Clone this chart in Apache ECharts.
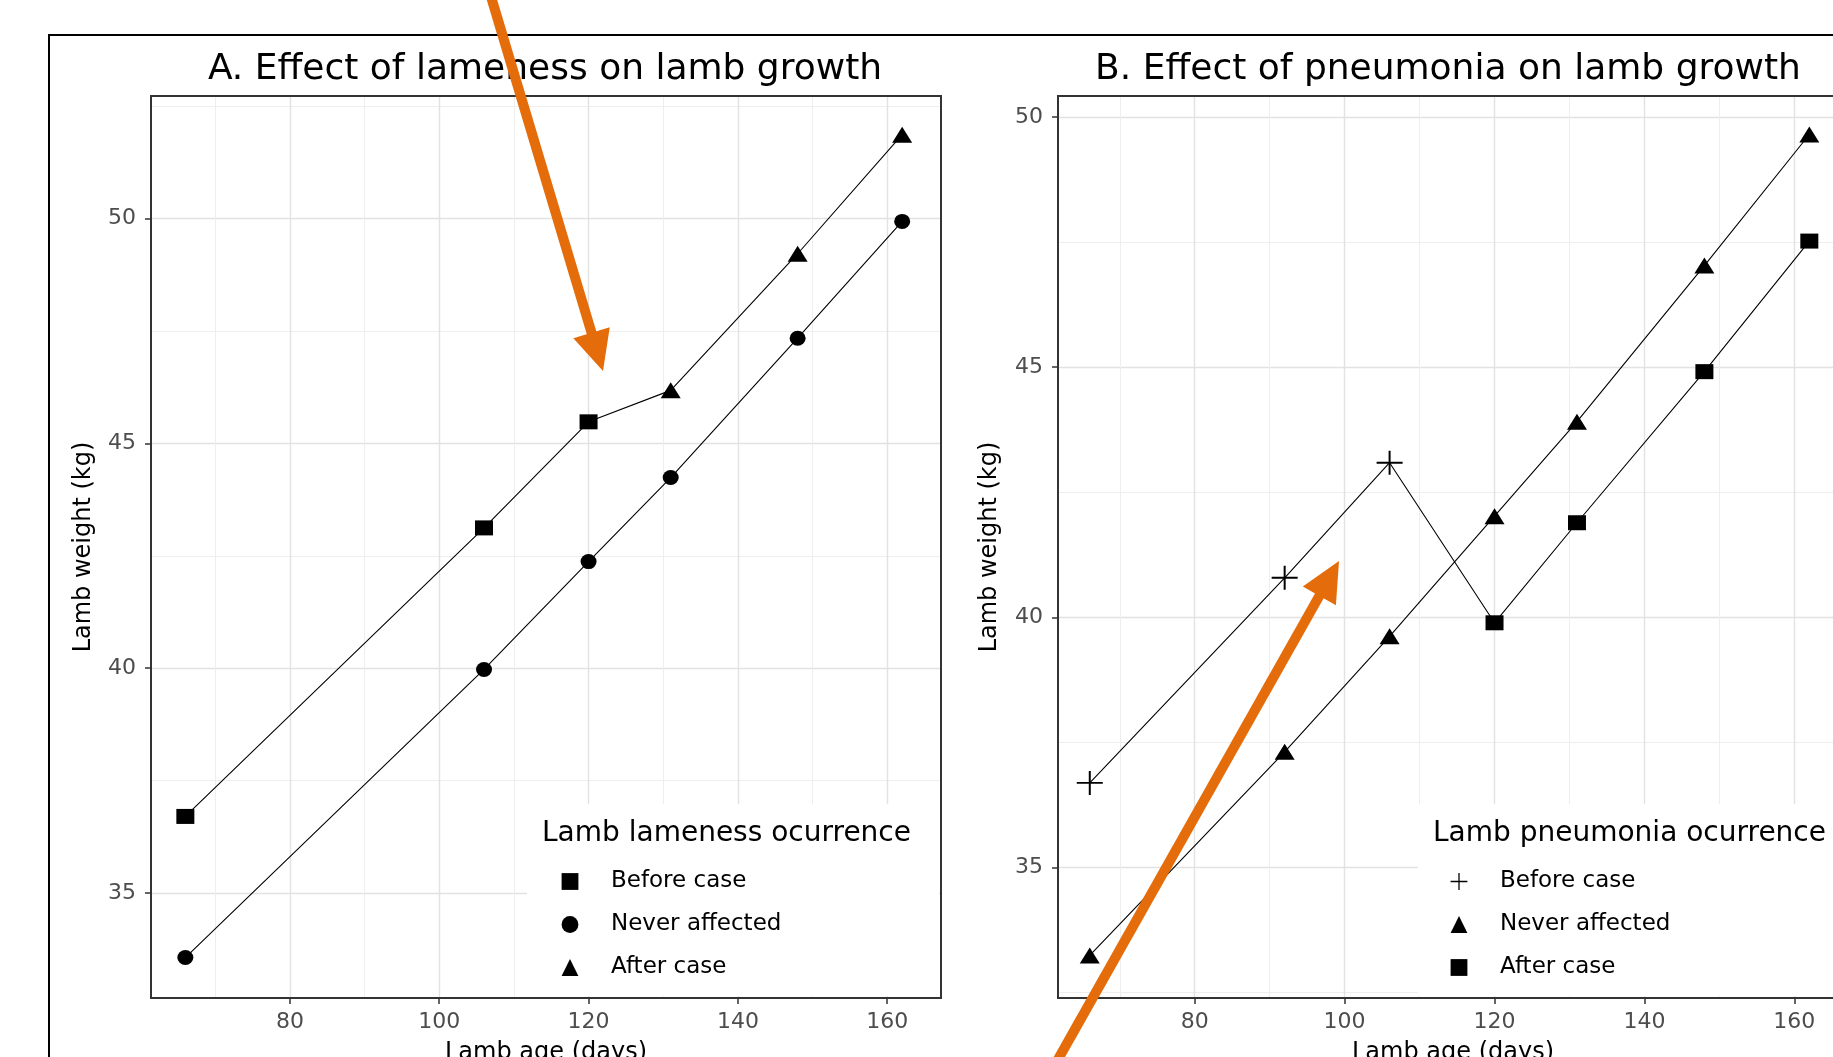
<!DOCTYPE html>
<html>
<head>
<meta charset="utf-8">
<script src="https://cdn.jsdelivr.net/npm/echarts@6/dist/echarts.min.js"></script>
<style>
  html, body { margin: 0; padding: 0; background: #fff; }
  #growth_chart { width: 1833px; height: 1057px; }
</style>
</head>
<body>
<div id="growth_chart"></div>
<script>
// A. lameness
var ageBeforeA = [66, 106, 120];
var wtBeforeA = [36.7, 43.12, 45.48];
var ageNeverA = [66, 106, 120, 131, 148, 162];
var wtNeverA = [33.56, 39.97, 42.37, 44.24, 47.34, 49.94];
var ageAfterA = [131, 148, 162];
var wtAfterA = [46.18, 49.22, 51.87];

// B. pneumonia
var ageBeforeB = [66, 92, 106];
var wtBeforeB = [36.69, 40.79, 43.09];
var ageNeverB = [66, 92, 106, 120, 131, 148, 162];
var wtNeverB = [33.24, 37.31, 39.62, 42.02, 43.91, 47.03, 49.65];
var ageAfterB = [120, 131, 148, 162];
var wtAfterB = [39.89, 41.89, 44.91, 47.52];

var xTicks = [80, 100, 120, 140, 160];
var xMinor = [70, 90, 110, 130, 150];
var yTicks = [35, 40, 45, 50];
var yMinor = [32.5, 37.5, 42.5, 47.5, 52.5];
var legendNames = ['Before case', 'Never affected', 'After case'];

var xRangeA = [61.4, 167.2], yRangeA = [32.66, 52.73];
var xRangeB = [61.76, 167.16], yRangeB = [32.39, 50.42];

var FONT = 'DejaVu Sans';
var orange = '#E46C0A';
var plusPath = 'path://M12,0h2v12h12v2h-12v12h-2v-12h-12v-2h12z';

function pts(ages, wts) {
    return ages.map(function (a, i) { return [a, wts[i]]; });
}

function inside(vals, range) {
    return vals.filter(function (v) { return v > range[0] && v < range[1]; });
}

function gridSeries(idx, xr, yr) {
    var major = {color: '#e2e2e2', width: 1.4, type: 'solid'};
    var minor = {color: '#eeeeee', width: 1, type: 'solid'};
    var lines = [];
    inside(yTicks, yr).forEach(function (v) { lines.push({yAxis: v, lineStyle: major}); });
    inside(yMinor, yr).forEach(function (v) { lines.push({yAxis: v, lineStyle: minor}); });
    inside(xTicks, xr).forEach(function (v) { lines.push({xAxis: v, lineStyle: major}); });
    inside(xMinor, xr).forEach(function (v) { lines.push({xAxis: v, lineStyle: minor}); });
    return {
        type: 'line', xAxisIndex: idx, yAxisIndex: idx, data: [], silent: true,
        markLine: {z: -1, silent: true, symbol: ['none', 'none'], label: {show: false},
            animation: false, data: lines}
    };
}

function pathLine(idx, data) {
    return {
        type: 'line', xAxisIndex: idx, yAxisIndex: idx, data: data, symbol: 'none',
        lineStyle: {color: '#000', width: 1.1}, z: 3, silent: true
    };
}

function markers(idx, name, data, symbol, size) {
    return {
        type: 'line', name: name, xAxisIndex: idx, yAxisIndex: idx, data: data,
        symbol: symbol, symbolSize: size, showAllSymbol: true,
        itemStyle: {color: '#000'}, lineStyle: {opacity: 0, color: '#000'},
        z: 4, silent: true
    };
}

function xAxisOf(idx, r) {
    return {
        type: 'value', gridIndex: idx, min: r[0], max: r[1],
        axisLine: {show: false}, splitLine: {show: false},
        axisTick: {show: true, customValues: xTicks, length: 6, lineStyle: {color: '#333', width: 1.5}},
        axisLabel: {customValues: xTicks, color: '#4d4d4d', fontSize: 22, fontFamily: FONT, margin: 13},
        name: 'Lamb age (days)', nameLocation: 'middle', nameGap: 43,
        nameTextStyle: {color: '#000', fontSize: 24, fontFamily: FONT}
    };
}

function yAxisOf(idx, r, gap) {
    return {
        type: 'value', gridIndex: idx, min: r[0], max: r[1],
        axisLine: {show: false}, splitLine: {show: false},
        axisTick: {show: true, customValues: yTicks, length: 6, lineStyle: {color: '#333', width: 1.5}},
        axisLabel: {customValues: yTicks, color: '#4d4d4d', fontSize: 22, fontFamily: FONT, margin: 15},
        name: 'Lamb weight (kg)', nameLocation: 'middle', nameRotate: 90, nameGap: gap,
        nameTextStyle: {color: '#000', fontSize: 24, fontFamily: FONT}
    };
}

function legendOf(left, prefix) {
    return {
        orient: 'vertical', left: left, top: 870, padding: 0,
        itemWidth: 72, itemHeight: 21, itemGap: 20, selectedMode: false,
        lineStyle: {color: 'rgba(0,0,0,0)'},
        data: legendNames.map(function (n) { return prefix + n; }),
        formatter: function (name) { return name.slice(prefix.length); },
        textStyle: {color: '#000', fontSize: 23, fontFamily: FONT}
    };
}

function titleOf(text, x, y, size, align) {
    return {
        text: text, left: x, top: y, padding: 0, textAlign: align, textVerticalAlign: 'middle',
        textStyle: {color: '#000', fontSize: size, fontWeight: 'normal', fontFamily: FONT}
    };
}

function arrow(x1, y1, x2, y2) {
    var dx = x2 - x1, dy = y2 - y1, len = Math.sqrt(dx * dx + dy * dy);
    var ux = dx / len, uy = dy / len, hl = 40, hw = 19;
    var bx = x2 - ux * hl, by = y2 - uy * hl;
    return [
        {type: 'line', z: 100, shape: {x1: x1, y1: y1, x2: bx + ux * 2, y2: by + uy * 2},
            style: {stroke: orange, lineWidth: 10}},
        {type: 'polygon', z: 100, shape: {points: [[x2, y2], [bx - uy * hw, by + ux * hw], [bx + uy * hw, by - ux * hw]]},
            style: {fill: orange}}
    ];
}

var chart = echarts.init(document.getElementById('growth_chart'));
var option = {
    backgroundColor: '#fff',
    animation: false,
    textStyle: {fontFamily: FONT},
    title: [
        titleOf('A. Effect of lameness on lamb growth', 545, 70, 36, 'center'),
        titleOf('B. Effect of pneumonia on lamb growth', 1448, 70, 36, 'center'),
        titleOf('Lamb lameness ocurrence', 542, 834, 28, 'left'),
        titleOf('Lamb pneumonia ocurrence', 1433, 834, 28, 'left')
    ],
    legend: [legendOf(533, 'A|'), legendOf(1422, 'B|')],
    grid: [
        {left: 151, top: 96, width: 790, height: 902, outerBoundsMode: 'none',
            show: true, borderColor: '#333', borderWidth: 2},
        {left: 1058, top: 96, width: 790, height: 902, outerBoundsMode: 'none',
            show: true, borderColor: '#333', borderWidth: 2}
    ],
    xAxis: [xAxisOf(0, xRangeA), xAxisOf(1, xRangeB)],
    yAxis: [yAxisOf(0, yRangeA, 55), yAxisOf(1, yRangeB, 56)],
    series: [
        gridSeries(0, xRangeA, yRangeA),
        gridSeries(1, xRangeB, yRangeB),
        pathLine(0, pts(ageBeforeA.concat(ageAfterA), wtBeforeA.concat(wtAfterA))),
        pathLine(0, pts(ageNeverA, wtNeverA)),
        pathLine(1, pts(ageBeforeB.concat(ageAfterB), wtBeforeB.concat(wtAfterB))),
        pathLine(1, pts(ageNeverB, wtNeverB)),
        markers(0, 'A|Before case', pts(ageBeforeA, wtBeforeA), 'rect', [18, 15]),
        markers(0, 'A|Never affected', pts(ageNeverA, wtNeverA), 'circle', [16, 15]),
        markers(0, 'A|After case', pts(ageAfterA, wtAfterA), 'triangle', [20, 16]),
        markers(1, 'B|Before case', pts(ageBeforeB, wtBeforeB), plusPath, [26, 24]),
        markers(1, 'B|Never affected', pts(ageNeverB, wtNeverB), 'triangle', [20, 16]),
        markers(1, 'B|After case', pts(ageAfterB, wtAfterB), 'rect', [18, 15])
    ],
    graphic: [
        {type: 'rect', z: 10, shape: {x: 49, y: 35, width: 1800, height: 1040},
            style: {fill: 'none', stroke: '#000', lineWidth: 2}},
        {type: 'rect', z: 0.5, shape: {x: 527, y: 804, width: 412, height: 192},
            style: {fill: '#fff'}},
        {type: 'rect', z: 0.5, shape: {x: 1418, y: 804, width: 420, height: 192},
            style: {fill: '#fff'}}
    ].concat(arrow(489, -10, 603, 371), arrow(1052, 1070, 1339, 561))
};
chart.setOption(option);
</script>
</body>
</html>
